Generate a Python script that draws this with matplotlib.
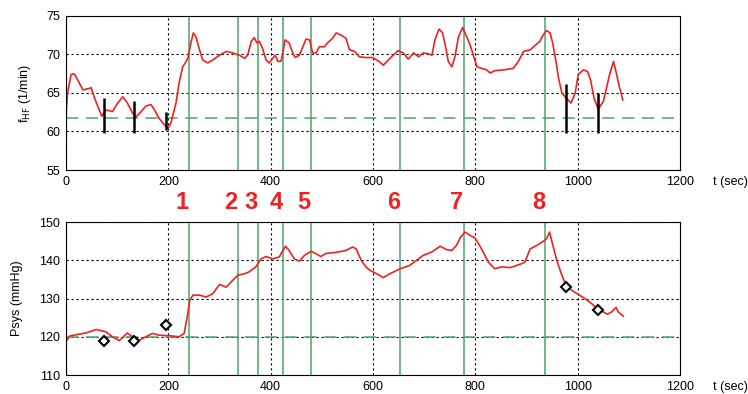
import numpy as np
import matplotlib
matplotlib.use('Agg')
import matplotlib.pyplot as plt

plt.rcParams['font.family'] = ['Liberation Sans', 'DejaVu Sans']

# heart rate (HF) trace, time in sec
t_hf = [0, 3, 10, 16, 23, 33, 46, 49, 55, 65, 70, 78, 91, 101, 111, 120, 130, 137,
        147, 156, 166, 173, 182, 192, 199, 205, 215, 221, 228, 235, 239, 244, 249,
        254, 261, 267, 277, 287, 300, 313, 326, 339, 349, 355, 362, 368, 373, 378,
        384, 391, 397, 404, 409, 414, 420, 423, 428, 436, 443, 448, 456, 463, 469,
        476, 482, 489, 495, 505, 511, 521, 528, 538, 547, 554, 564, 573, 586, 599,
        612, 620, 633, 649, 659, 669, 679, 689, 698, 708, 715, 721, 729, 736, 743,
        747, 754, 760, 767, 775, 783, 790, 796, 803, 812, 822, 829, 838, 855, 874,
        884, 894, 907, 917, 926, 932, 939, 946, 951, 958, 962, 969, 978, 987, 995,
        1001, 1011, 1019, 1025, 1032, 1040, 1050, 1057, 1063, 1070, 1076, 1081, 1088]
f_hf = [62.0, 65.0, 67.4, 67.5, 66.7, 65.4, 65.6, 65.7, 64.5, 62.8, 62.0, 62.8, 62.6,
        63.7, 64.5, 63.7, 62.4, 61.9, 62.6, 63.3, 63.5, 62.8, 61.7, 60.9, 60.4, 61.1,
        63.7, 66.3, 68.4, 69.1, 69.7, 71.5, 72.8, 72.3, 70.6, 69.3, 68.9, 69.3, 69.9,
        70.4, 70.2, 69.9, 69.5, 69.9, 71.7, 72.2, 71.5, 71.7, 70.8, 69.3, 68.9, 69.5,
        69.9, 69.1, 69.1, 69.9, 71.9, 71.5, 70.2, 69.6, 69.9, 71.0, 72.0, 71.9, 70.2,
        70.2, 71.0, 71.0, 71.5, 72.1, 72.8, 72.5, 72.1, 70.6, 70.4, 69.7, 69.6, 69.6,
        69.1, 68.6, 69.5, 70.5, 70.2, 69.4, 70.2, 69.7, 70.2, 70.1, 69.9, 71.9, 73.3,
        72.8, 70.6, 69.1, 68.4, 69.7, 72.3, 73.5, 72.3, 71.2, 69.9, 68.4, 68.2, 68.0,
        67.6, 67.9, 68.0, 68.2, 69.1, 70.4, 70.6, 71.2, 71.7, 72.5, 73.1, 72.8, 71.5,
        68.9, 67.1, 65.0, 64.3, 63.7, 65.0, 67.4, 68.0, 67.8, 66.7, 64.3, 62.9, 63.9,
        65.9, 67.6, 69.1, 67.4, 65.9, 64.1]

# systolic pressure trace
t_ps = [0, 7, 26, 39, 59, 78, 91, 104, 120, 130, 143, 156, 169, 182, 202, 221, 231,
        238, 242, 248, 261, 274, 287, 300, 313, 326, 336, 349, 358, 371, 381, 391,
        404, 417, 420, 429, 436, 446, 456, 466, 479, 489, 498, 508, 528, 547, 560,
        567, 577, 586, 594, 607, 620, 633, 653, 672, 685, 698, 715, 731, 744, 754,
        763, 771, 780, 790, 799, 812, 825, 838, 851, 868, 881, 890, 897, 907, 920,
        933, 939, 945, 949, 959, 969, 978, 988, 1001, 1014, 1027, 1040, 1050, 1058,
        1066, 1075, 1079, 1089]
p_sys = [118.7, 120.2, 120.7, 121.0, 121.9, 121.3, 120.0, 119.0, 121.0, 120.0, 119.1,
         120.0, 120.9, 120.4, 120.3, 120.0, 120.9, 126.1, 129.6, 130.9, 130.9, 130.4,
         131.3, 133.7, 133.0, 134.8, 136.1, 136.5, 137.0, 138.3, 140.4, 141.0, 140.4,
         140.9, 141.7, 143.7, 142.6, 140.4, 139.8, 141.3, 142.4, 141.7, 141.0, 141.8,
         142.1, 142.6, 143.5, 143.0, 140.0, 138.3, 137.4, 136.5, 135.5, 136.5, 137.8,
         138.7, 140.0, 141.3, 142.2, 143.7, 142.8, 142.6, 143.9, 146.1, 147.4, 146.5,
         145.9, 143.0, 139.6, 137.8, 138.3, 138.1, 138.7, 139.1, 139.6, 143.0, 143.9,
         145.0, 145.7, 147.4, 145.2, 140.0, 136.1, 133.2, 132.2, 131.1, 130.0, 128.7,
         127.1, 126.5, 125.9, 126.5, 127.7, 126.5, 125.4]

# event times (green lines) and labels
t_events = [240, 336, 375, 424, 479, 653, 777, 937]
event_labels = ['1', '2', '3', '4', '5', '6', '7', '8']

# reference measurements
t_ref = [74, 133, 195, 978, 1039]
ref_top = [64.3, 64.0, 62.5, 66.2, 65.0]
ref_bottom = [59.8, 59.8, 60.2, 59.8, 59.8]
p_ref = [119, 119, 123, 133, 127]

hf_base = 61.7
p_base = 120

red = '#ee2222'
green = '#4aa56a'

fig = plt.figure(figsize=(7.48, 3.94), dpi=100)
ax1 = fig.add_axes([0.0882, 0.5685, 0.821, 0.391])
ax2 = fig.add_axes([0.0882, 0.0482, 0.821, 0.388])

for ax in (ax1, ax2):
    ax.set_xlim(0, 1200)
    ax.set_xticks(np.arange(0, 1201, 200))
    ax.grid(True, color='black', linestyle=(0, (2, 2.5)), linewidth=0.8)
    ax.tick_params(labelsize=9, length=0, pad=4)
    for s in ax.spines.values():
        s.set_linewidth(0.8)
    for te in t_events:
        ax.axvline(te, color=green, linewidth=1.1)
    ax.annotate('t (sec)', xy=(1, 0), xycoords='axes fraction', xytext=(24, -4),
                textcoords='offset points', ha='left', va='top', fontsize=9)

ax1.set_ylim(55, 75)
ax1.set_yticks(np.arange(55, 76, 5))
ax1.axhline(hf_base, color=green, linestyle=(0, (8, 5)), linewidth=1.1)
ax1.plot(t_hf, f_hf, color=red, linewidth=1.2)
ax1.vlines(t_ref, ref_bottom, ref_top, color='black', linewidth=1.8)
ax1.set_ylabel(r'f$_{\mathrm{HF}}$ (1/min)', fontsize=9, labelpad=10)

ax2.set_ylim(110, 150)
ax2.set_yticks(np.arange(110, 151, 10))
ax2.axhline(p_base, color=green, linestyle=(0, (8, 5)), linewidth=1.1)
ax2.plot(t_ps, p_sys, color=red, linewidth=1.2)
ax2.plot(t_ref, p_ref, linestyle='none', marker='D', markersize=5,
         markerfacecolor='white', markeredgecolor='black', markeredgewidth=1.5)
ax2.set_ylabel('Psys (mmHg)', fontsize=9, labelpad=12)

for te, lab in zip(t_events, event_labels):
    ax2.annotate(lab, xy=(te, 1), xycoords=('data', 'axes fraction'),
                 xytext=(-5, 6), textcoords='offset points', ha='center',
                 va='bottom', fontsize=17, fontweight='bold', color=red)

fig.savefig('out.png', dpi=100)
